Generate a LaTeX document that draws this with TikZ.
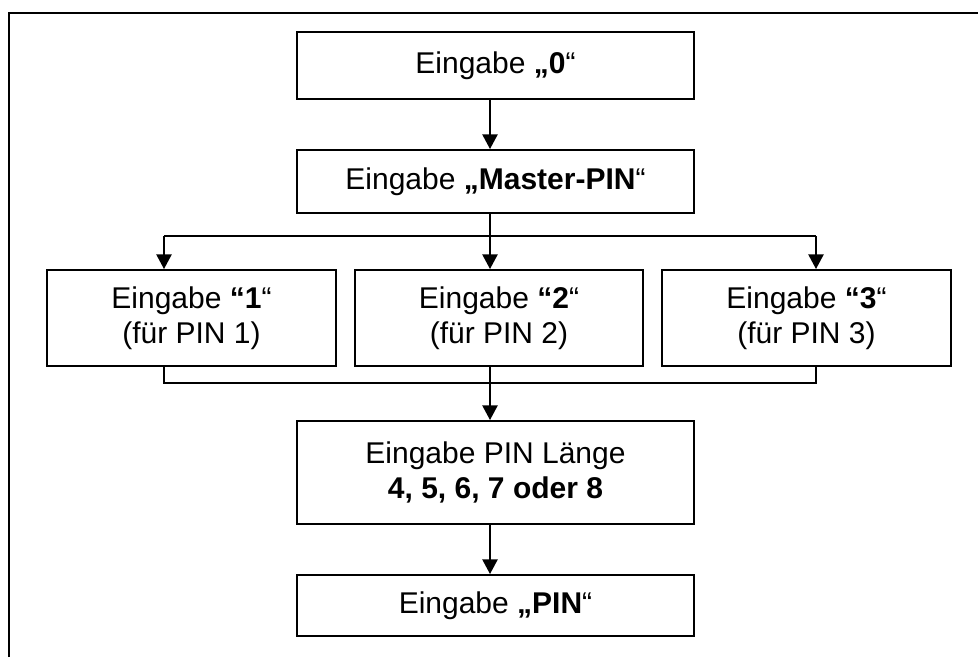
\documentclass[tikz,border=0pt]{standalone}
\usepackage{fontspec}
\setmainfont{Liberation Sans}
\usetikzlibrary{arrows.meta}
\begin{document}
\begin{tikzpicture}[x=0.75pt,y=-0.75pt,
  box/.style={draw,line width=1.5pt,inner sep=0pt,align=center,
    rectangle,font=\fontsize{22.5}{26.5}\selectfont},
  conn/.style={line width=1.1pt},
  arr/.style={conn,-{Triangle[length=11pt,width=11.5pt]}},
  frame/.style={line width=1.5pt}]
\useasboundingbox (0,0) rectangle (978,657);
% open frame
\coordinate (ftl) at (9,13);
\coordinate (ftr) at (978,13);
\coordinate (fbl) at (9,657);
\draw[frame] (fbl) -- (ftl) -- (ftr);
% helper coordinates
\coordinate (xl) at (164,0);
\coordinate (xm) at (490,0);
\coordinate (xr) at (816,0);
\coordinate (yt) at (0,236);
\coordinate (yb) at (0,383);
% boxes
\node[box,minimum width=297.75pt,minimum height=50.25pt] (b0) at (495.5,65.5) {Eingabe \textbf{„0}“};
\node[box,minimum width=297.75pt,minimum height=47.25pt] (m) at (495.5,181.5) {Eingabe \textbf{„Master-PIN}“};
\node[box,minimum width=216.75pt,minimum height=72pt] (b1) at (191.5,318) {Eingabe \textbf{“1}“\\(für PIN 1)};
\node[box,minimum width=216pt,minimum height=72pt] (b2) at (499,318) {Eingabe \textbf{“2}“\\(für PIN 2)};
\node[box,minimum width=216.75pt,minimum height=72pt] (b3) at (806.5,318) {Eingabe \textbf{“3}“\\(für PIN 3)};
\node[box,minimum width=297.75pt,minimum height=77.25pt] (b4) at (495.5,472.5) {Eingabe PIN Länge\\\textbf{4, 5, 6, 7 oder 8}};
\node[box,minimum width=297.75pt,minimum height=45.75pt] (b5) at (495.5,605.5) {Eingabe \textbf{„PIN}“};
% connectors
\draw[arr] (b0.south -| xm) -- (m.north -| xm);
\draw[conn] (m.south -| xm) -- (yt -| xm);
\draw[conn] (yt -| xl) -- (yt -| xr);
\draw[arr] (yt -| xl) -- (b1.north -| xl);
\draw[arr] (yt -| xm) -- (b2.north -| xm);
\draw[arr] (yt -| xr) -- (b3.north -| xr);
\draw[conn] (b1.south -| xl) -- (yb -| xl) -- (yb -| xr) -- (b3.south -| xr);
\draw[arr] (b2.south -| xm) -- (b4.north -| xm);
\draw[arr] (b4.south -| xm) -- (b5.north -| xm);
\end{tikzpicture}
\end{document}
